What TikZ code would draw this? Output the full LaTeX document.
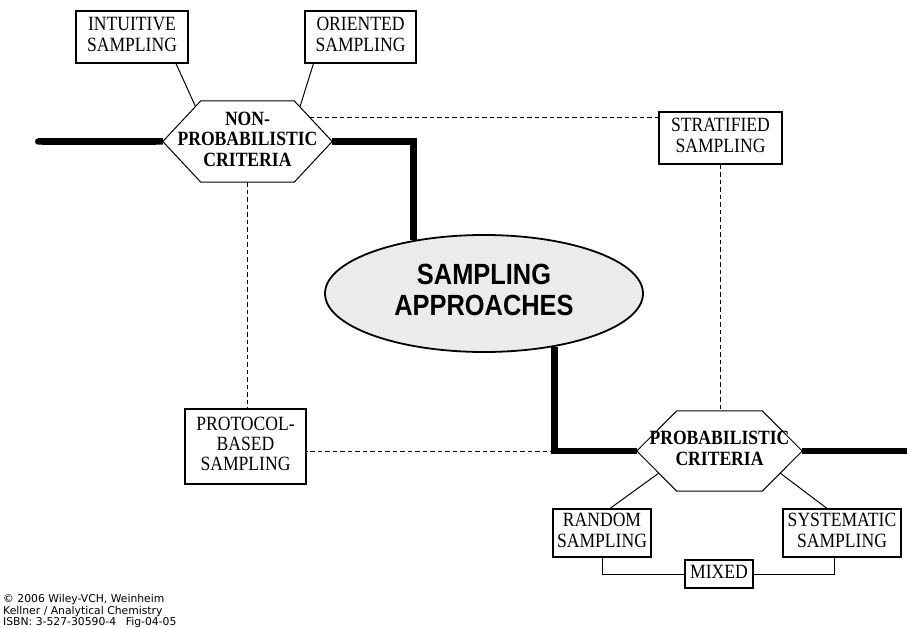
\documentclass[tikz,border=0pt]{standalone}
\usepackage{fontspec}
\usepackage{graphicx}
\setmainfont{Liberation Serif}
\newfontfamily\arialfont{Liberation Sans}
\newfontfamily\notefont{DejaVu Sans}
\usetikzlibrary{shapes.geometric,calc,arrows.meta}

% stacked lines of text, slightly stretched vertically
\newcommand\vtext[2][c]{\scalebox{1}[1.15]{\begin{tabular}{@{}#1@{}}#2\end{tabular}}}

% hexagonal frame around a rectangular node; #2 = chamfer width
\newcommand\hexframe[2]{%
  \coordinate (#1-tl) at ([xshift=#2pt]#1.north west);
  \coordinate (#1-tr) at ([xshift=-#2pt]#1.north east);
  \coordinate (#1-br) at ([xshift=-#2pt]#1.south east);
  \coordinate (#1-bl) at ([xshift=#2pt]#1.south west);
  \draw[thinline] (#1.west) -- (#1-tl) -- (#1-tr) -- (#1.east) -- (#1-br) -- (#1-bl) -- cycle;}

\definecolor{ellfill}{HTML}{EBEBEB}

\begin{document}
\begin{tikzpicture}[x=1pt,y=-1pt,
  thinline/.style={line width=1pt},
  dashline/.style={line width=0.9pt, dash pattern=on 4.5pt off 3pt},
  mainline/.style={line width=6.5pt},
  box/.style={draw, line width=1.1pt, inner sep=0pt,
    font=\fontsize{17.6}{17.6}\selectfont},
  hexnode/.style={inner sep=0pt,
    font=\bfseries\fontsize{17.6}{17.8}\selectfont},
  bigell/.style={ellipse, draw, line width=1.8pt, fill=ellfill, inner sep=0pt,
    font=\arialfont\bfseries\fontsize{25.4}{27.5}\selectfont}]

\useasboundingbox (0,0) rectangle (907,628);

% boxes
\node[box, minimum width=112, minimum height=52] (intu) at (132,37) {\vtext{INTUITIVE\\SAMPLING}};
\node[box, minimum width=111, minimum height=52] (orie) at (360.5,37) {\vtext{ORIENTED\\SAMPLING}};
\node[box, minimum width=123, minimum height=52] (strat) at (720.5,138) {\vtext{STRATIFIED\\SAMPLING}};
\node[box, minimum width=121, minimum height=75] (proto) at (245.5,446.5) {\vtext{PROTOCOL-\\BASED\\SAMPLING}};
\node[box, minimum width=98, minimum height=48] (rand) at (602,533) {\vtext{RANDOM\\SAMPLING}};
\node[box, minimum width=118, minimum height=48] (sys) at (842,533) {\vtext{SYSTEMATIC\\SAMPLING}};
\node[box, minimum width=68, minimum height=28] (mix) at (719,574) {\vtext{MIXED}};

% criteria hexagons
\node[hexnode, minimum width=169, minimum height=81] (nph) at (247.5,141.5) {\vtext{NON-\\PROBABILISTIC\\CRITERIA}};
\hexframe{nph}{38}
\node[hexnode, minimum width=165, minimum height=80] (ph) at (719.5,451) {\vtext{PROBABILISTIC\\CRITERIA}};
\hexframe{ph}{40}

% central ellipse
\node[bigell, minimum width=318, minimum height=117] (ell) at (484,293.5) {\vtext{SAMPLING\\APPROACHES}};

% main thick path
\coordinate (lend) at (35,141.5);
\coordinate (rend) at (910,451);
\coordinate (c2) at (ell.-37 |- ph.west);
\draw[mainline, {Round Cap[]}-{Butt Cap[]}] (lend) -- (nph.west);
\draw[mainline] (nph.east) -| (ell.143);
\draw[mainline] (ell.-37) |- (ph.west);
\draw[mainline] (ph.east) -- (rend);

% links to sampling methods
\draw[thinline] ([xshift=44pt]intu.south) -- ($(nph.west)!0.86!(nph-tl)$);
\draw[thinline] ([xshift=-47pt]orie.south) -- ($(nph-tr)!0.15!(nph.east)$);
\draw[thinline] ([xshift=8pt]rand.north) -- ($(ph.west)!0.55!(ph-bl)$);
\draw[thinline] ([xshift=-15pt]sys.north) -- ($(ph.east)!0.55!(ph-br)$);
\draw[thinline] (rand.south) |- (mix.west);
\draw[thinline] (mix.east) -| ([xshift=-8pt]sys.south);

% dashed cross links
\coordinate (d1) at ($(nph-tr)!0.41!(nph.east)$);
\draw[dashline] (d1) -- (d1 -| strat.west);
\draw[dashline] (strat.south) -- (strat.south |- ph.north);
\draw[dashline] (nph.south) -- (nph.south |- proto.north);
\draw[dashline] (c2) -- (c2 -| proto.east);

% credit line
\node[anchor=north west, inner sep=0pt, font=\notefont\fontsize{10.8}{10}\selectfont] (note) at (3,594.5)
  {\begin{tabular}{@{}l@{}}© 2006 Wiley-VCH, Weinheim\\Kellner / Analytical Chemistry\\ISBN: 3-527-30590-4\hspace{0.9em}Fig-04-05\end{tabular}};

\end{tikzpicture}
\end{document}
